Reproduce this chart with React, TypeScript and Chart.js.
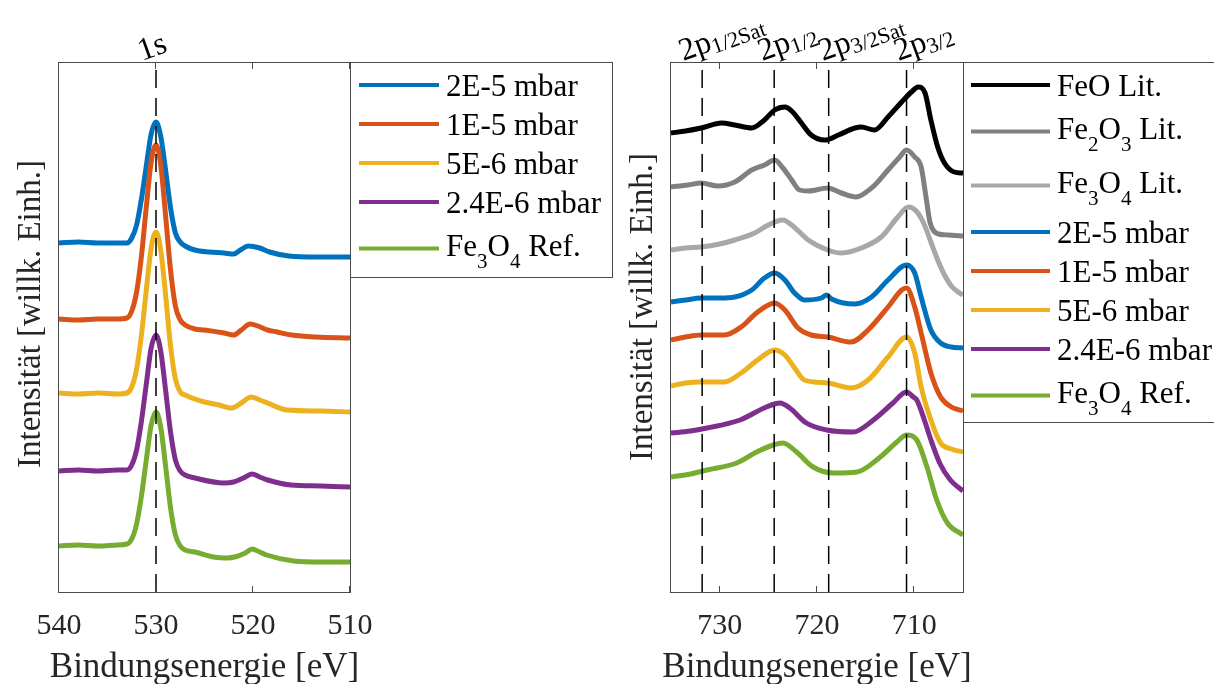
import React, { useEffect, useRef } from "react";
import { Chart, registerables } from "chart.js";

Chart.register(...registerables);

type Pt = [number, number];

const FONT = '"Liberation Serif", "Times New Roman", serif';

// ---------------- O 1s (left panel) ----------------
const o1sXMin = 510;
const o1sXMax = 540;
const o1sYMax = 529;
const o1sTicks = [540, 530, 520, 510];
const o1sLabels = ["2E-5 mbar", "1E-5 mbar", "5E-6 mbar", "2.4E-6 mbar", "Fe_3O_4 Ref."];

const o1s2E5: Pt[] = [
  [540, 349], [538, 350], [536, 349], [534, 349], [533, 349], [532.5, 354], [532, 367], [531.5, 393],
  [531, 426], [530.5, 458], [530, 470], [529.5, 455], [529, 421], [528.5, 384], [528, 359], [527.5, 350],
  [527, 346], [526, 342], [524.5, 340], [523, 339], [522, 338], [521.3, 342], [520.5, 346], [520, 345.5],
  [519.3, 344], [518.3, 340], [516.3, 336], [513.5, 335], [510, 335],
];
const o1s1E5: Pt[] = [
  [540, 273], [538, 272], [536, 273], [534, 273], [533, 274], [532.5, 281], [532, 300], [531.5, 336],
  [531, 385], [530.5, 430], [530, 447], [529.5, 426], [529, 375], [528.5, 322], [528, 286], [527.5, 272],
  [527, 267], [526, 263], [525, 262], [523, 259], [522, 257], [521.2, 262], [520.3, 268], [519.5, 266],
  [518.5, 262], [517.5, 260], [516, 257], [513.5, 255], [510, 254],
];
const o1s5E6: Pt[] = [
  [540, 199], [538, 198], [536, 199], [534, 198], [533, 199], [532.5, 205], [532, 223], [531.5, 257],
  [531, 302], [530.5, 344], [530, 360], [529.5, 341], [529, 296], [528.5, 246], [528, 213], [527.5, 200],
  [527, 197], [526, 193], [525, 190], [523.5, 187], [522.2, 184], [521.2, 189], [520.2, 195], [519.3, 192],
  [518.5, 189], [516.5, 182], [513, 181], [510, 180],
];
const o1s24E6: Pt[] = [
  [540, 121], [538, 122], [536, 121], [534, 122], [533, 122], [532.5, 127], [532, 142], [531.5, 171],
  [531, 208], [530.5, 244], [530, 257], [529.5, 240], [529, 201], [528.5, 160], [528, 132], [527.5, 121],
  [527, 117], [526, 114], [523, 109], [522, 110], [521, 114], [520.1, 118], [519.3, 115], [518.5, 112],
  [516.1, 107], [513, 106], [510, 105],
];
const o1sRef: Pt[] = [
  [540, 46], [538, 47], [536, 46], [534, 47], [533, 48], [532.5, 53], [532, 68], [531.5, 96],
  [531, 132], [530.5, 167], [530, 180], [529.5, 164], [529, 125], [528.5, 84], [528, 57], [527.5, 46],
  [527, 42], [526, 40], [524.1, 35], [522.7, 34], [521.7, 35.5], [520.8, 39], [520.1, 43], [519.3, 40],
  [518.6, 37], [515.8, 31], [513, 30], [510, 30],
];
const o1sSeries = [o1s2E5, o1s1E5, o1s5E6, o1s24E6, o1sRef];
const o1sMarkers = [530];
const o1sMarkerMain = ["1s"];
const o1sMarkerSub = [""];

// ---------------- Fe 2p (right panel) ----------------
const fe2pXMin = 705;
const fe2pXMax = 735;
const fe2pYMax = 529;
const fe2pTicks = [730, 720, 710];
const fe2pLabels = [
  "FeO Lit.", "Fe_2O_3 Lit.", "Fe_3O_4 Lit.", "2E-5 mbar", "1E-5 mbar", "5E-6 mbar", "2.4E-6 mbar", "Fe_3O_4 Ref.",
];

const fe2pFeO: Pt[] = [
  [735, 459], [733.5, 461], [731.9, 464], [729.8, 469], [728.45, 467], [726.7, 464], [725.4, 472],
  [724.35, 482], [723.3, 485], [722.5, 480], [721.6, 469], [720.6, 457], [719.2, 452], [717.8, 457],
  [716.1, 464], [715.45, 465], [714.1, 462], [712.7, 475], [711.3, 490], [710.3, 500], [709.6, 505],
  [708.9, 499], [708.3, 472], [707.6, 445], [706.9, 429], [705.9, 420], [705, 419],
];
const fe2pFe2O3: Pt[] = [
  [735, 405], [733.25, 407], [731.9, 409], [730.2, 406], [728.45, 410], [726.7, 422], [725.4, 427],
  [724.35, 432], [723.5, 424], [722.6, 412], [721.8, 402], [720.9, 401], [718.9, 404], [717.5, 399],
  [716, 395], [714.4, 404], [712.7, 422], [711.5, 435], [710.8, 442], [709.96, 435], [709.3, 425],
  [708.8, 395], [708.4, 370], [708, 361], [707.5, 358], [706.5, 357], [705, 356],
];
const fe2pFe3O4Lit: Pt[] = [
  [735, 342], [733.5, 344], [731.9, 345], [730, 348], [728.45, 352], [726.4, 359], [725, 367],
  [723.5, 372], [722.6, 367], [720.9, 352], [718.9, 342], [717.5, 339], [715.45, 344], [713.4, 355],
  [711.7, 375], [710.6, 385], [709.8, 381], [709, 368], [708.3, 350], [707.6, 332], [706.9, 317],
  [706.2, 306], [705.5, 300], [705, 297],
];
const fe2p2E5: Pt[] = [
  [735, 290], [733.5, 292], [731.9, 294], [730, 294], [728.45, 295], [726.7, 302], [725.4, 314],
  [724.35, 319], [723.3, 312], [722.3, 299], [721.3, 292], [719.55, 294], [719, 297], [718.5, 293],
  [716.1, 288], [714.4, 295], [712.7, 312], [710.8, 327], [709.96, 319], [709.3, 295], [708.3, 262],
  [707.3, 249], [706.2, 245], [705, 244],
];
const fe2p1E5: Pt[] = [
  [735, 252], [733.5, 255], [731.9, 257], [729.5, 257], [727.8, 265], [726.1, 280], [724.35, 289],
  [723.3, 282], [721.95, 264], [720.6, 257], [718.9, 255], [716.5, 250], [714.75, 262], [712.7, 285],
  [711.3, 302], [710.8, 304], [709.96, 285], [709.3, 259], [708.3, 219], [707.3, 195], [706.2, 185],
  [705, 181],
];
const fe2p5E6: Pt[] = [
  [735, 206], [733.5, 209], [731.9, 210], [729.5, 210], [727.8, 219], [726.1, 232], [724.35, 242],
  [723.3, 237], [722.3, 224], [721.3, 212], [718.9, 209], [716.5, 204], [714.75, 212], [712.7, 235],
  [710.8, 255], [709.96, 239], [709.3, 205], [708.3, 172], [707.3, 149], [706.2, 143], [705, 140],
];
const fe2p24E6: Pt[] = [
  [735, 159], [733, 161], [731.3, 164], [727.9, 172], [725.2, 185], [723.8, 189], [722.8, 184],
  [721.1, 169], [719, 162], [716.3, 160], [714.2, 172], [712.2, 189], [710.8, 200], [710.1, 195],
  [709.75, 192], [708.9, 170], [708.4, 155], [707.4, 129], [706.3, 112], [705, 101],
];
const fe2pRef: Pt[] = [
  [735, 115], [733, 118], [731.3, 122], [728.25, 129], [726.2, 140], [724.5, 147], [723.5, 149],
  [722.1, 140], [720.4, 125], [718.3, 119], [715.9, 120], [713.5, 135], [711.8, 150], [710.8, 157],
  [709.75, 152], [708.7, 125], [707.7, 92], [706.6, 69], [705, 57],
];
const fe2pSeries = [fe2pFeO, fe2pFe2O3, fe2pFe3O4Lit, fe2p2E5, fe2p1E5, fe2p5E6, fe2p24E6, fe2pRef];
const fe2pMarkers = [731.8, 724.4, 718.8, 710.8];
const fe2pMarkerMain = ["2p", "2p", "2p", "2p"];
const fe2pMarkerSub = ["1/2Sat", "1/2", "3/2Sat", "3/2"];

const xTitle = "Bindungsenergie [eV]";
const yTitle = "Intensität [willk. Einh.]";

// ---------------- styles ----------------
const matlabColors = ["#0072BD", "#D95319", "#EDB120", "#7E2F8E", "#77AC30"];
const fe2pColors = ["#000000", "#808080", "#A8A8A8", ...matlabColors];
const AXIS_COLOR = "#262626";

function parseRich(s: string) {
  const parts: { t: string; sub: boolean }[] = [];
  let buf = "";
  for (let i = 0; i < s.length; i++) {
    if (s[i] === "_" && i + 1 < s.length) {
      if (buf) parts.push({ t: buf, sub: false });
      buf = "";
      parts.push({ t: s[i + 1], sub: true });
      i++;
    } else buf += s[i];
  }
  if (buf) parts.push({ t: buf, sub: false });
  return parts;
}

function drawRich(ctx: CanvasRenderingContext2D, parts: { t: string; sub: boolean }[], x: number, y: number,
  main: number, sub: number, subDy: number) {
  let cx = x;
  for (const p of parts) {
    ctx.font = `${p.sub ? sub : main}px ${FONT}`;
    ctx.fillText(p.t, cx, y + (p.sub ? subDy : 0));
    cx += ctx.measureText(p.t).width;
  }
}

const decorPlugin = {
  id: "decor",
  afterDraw(chart: any, _args: any, o: any) {
    const ctx: CanvasRenderingContext2D = chart.ctx;
    const a = chart.chartArea;
    const xs = chart.scales.x;
    ctx.save();
    // frame
    ctx.strokeStyle = "#4a4a4a";
    ctx.lineWidth = 1;
    ctx.strokeRect(a.left - 0.5, a.top - 0.5, a.right - a.left + 1, a.bottom - a.top + 1);
    // inward ticks
    ctx.beginPath();
    for (const t of xs.ticks) {
      const px = Math.round(xs.getPixelForValue(t.value)) - 0.5;
      ctx.moveTo(px, a.top);
      ctx.lineTo(px, a.top + 6);
      ctx.moveTo(px, a.bottom);
      ctx.lineTo(px, a.bottom - 6);
    }
    ctx.stroke();

    // x title (wider than the plot, so drawn here without width compression)
    ctx.fillStyle = AXIS_COLOR;
    ctx.font = `35px ${FONT}`;
    ctx.textAlign = "center";
    ctx.textBaseline = "alphabetic";
    ctx.fillText(o.xTitle, (a.left + a.right) / 2, 677);

    // y title
    ctx.save();
    ctx.translate(o.yTitleX, o.yTitleY);
    ctx.rotate(-Math.PI / 2);
    ctx.font = `33px ${FONT}`;
    ctx.textAlign = "center";
    ctx.textBaseline = "middle";
    ctx.fillText(o.yTitle, 0, 0);
    ctx.restore();

    // marker labels (rotated)
    ctx.textAlign = "left";
    ctx.textBaseline = "alphabetic";
    o.markers.forEach((m: number, i: number) => {
      const px = xs.getPixelForValue(m) + o.markerDx[i];
      ctx.save();
      ctx.translate(px, o.markerY);
      ctx.rotate((-20 * Math.PI) / 180);
      ctx.fillStyle = "#000";
      const parts = [{ t: o.markerMain[i], sub: false }];
      if (o.markerSub[i]) parts.push({ t: o.markerSub[i], sub: true });
      drawRich(ctx, parts, 0, 0, 32, 22, 4);
      ctx.restore();
    });

    // legend
    const lg = o.legend;
    ctx.fillStyle = "#ffffff";
    ctx.fillRect(lg.x1, lg.y1, lg.x2 - lg.x1, lg.y2 - lg.y1);
    ctx.strokeStyle = "#4a4a4a";
    ctx.lineWidth = 1;
    ctx.strokeRect(lg.x1 - 0.5, lg.y1 - 0.5, lg.x2 - lg.x1, lg.y2 - lg.y1);
    const items = chart.data.datasets.filter((d: any) => d.isSeries);
    let y = lg.y0;
    items.forEach((d: any, i: number) => {
      const parts = parseRich(d.label);
      const hasSub = parts.some((p) => p.sub);
      ctx.strokeStyle = d.borderColor;
      ctx.lineWidth = 4;
      ctx.beginPath();
      ctx.moveTo(lg.lx1, y);
      ctx.lineTo(lg.lx2, y);
      ctx.stroke();
      ctx.fillStyle = "#000";
      drawRich(ctx, parts, lg.tx, y + (hasSub ? 7 : 10.5), 31, 21, 12);
      if (i + 1 < items.length) {
        const nextSub = parseRich(items[i + 1].label).some((p) => p.sub);
        y += 39 + (hasSub ? 7.5 : 0) + (nextSub ? 7.5 : 0);
      }
    });
    ctx.restore();
  },
};

function buildConfig(series: Pt[][], labels: string[], colors: string[], xMin: number, xMax: number,
  yMax: number, tickValues: number[], markers: number[], padding: any, decor: any) {
  const datasets: any[] = series.map((s, i) => ({
    label: labels[i],
    isSeries: true,
    data: s.map(([x, y]) => ({ x, y })),
    borderColor: colors[i],
    backgroundColor: colors[i],
    borderWidth: 5,
    pointRadius: 0,
    cubicInterpolationMode: "monotone",
    borderJoinStyle: "round",
    clip: 0,
    order: 100 - i,
  }));
  markers.forEach((m) => {
    datasets.push({
      label: "marker",
      isSeries: false,
      data: [{ x: m, y: 0 }, { x: m, y: yMax }],
      borderColor: "#000",
      borderWidth: 1.5,
      borderDash: [18, 10],
      pointRadius: 0,
      clip: 0,
      order: -1,
    });
  });
  return {
    type: "line",
    data: { datasets },
    options: {
      responsive: false,
      maintainAspectRatio: false,
      animation: false,
      devicePixelRatio: 1,
      events: [],
      layout: { padding },
      plugins: { legend: { display: false }, tooltip: { enabled: false }, decor },
      scales: {
        x: {
          type: "linear",
          min: xMin,
          max: xMax,
          reverse: true,
          grid: { display: false, drawTicks: false },
          border: { display: false },
          ticks: {
            padding: 16,
            maxRotation: 0,
            autoSkip: false,
            color: AXIS_COLOR,
            font: { family: FONT, size: 30 },
          },
          afterBuildTicks: (s: any) => {
            s.ticks = tickValues.map((v) => ({ value: v }));
          },
          afterFit: (s: any) => {
            s.height = 92;
          },
          title: { display: false },
        },
        y: { type: "linear", min: 0, max: yMax, display: false },
      },
    },
    plugins: [decorPlugin],
  } as any;
}

export default function App() {
  const leftRef = useRef<HTMLCanvasElement>(null);
  const rightRef = useRef<HTMLCanvasElement>(null);

  useEffect(() => {
    const c1 = new Chart(
      leftRef.current as HTMLCanvasElement,
      buildConfig(o1sSeries, o1sLabels, matlabColors, o1sXMin, o1sXMax, o1sYMax, o1sTicks, o1sMarkers,
        { left: 59, right: 1214 - 350, top: 63, bottom: 0 },
        {
          xTitle, yTitle, yTitleX: 31, yTitleY: 314,
          markers: o1sMarkers, markerMain: o1sMarkerMain, markerSub: o1sMarkerSub, markerDx: [-14], markerY: 61,
          legend: { x1: 351, y1: 63, x2: 613, y2: 278, lx1: 359, lx2: 439, tx: 446, y0: 85 },
        })
    );
    const c2 = new Chart(
      rightRef.current as HTMLCanvasElement,
      buildConfig(fe2pSeries, fe2pLabels, fe2pColors, fe2pXMin, fe2pXMax, fe2pYMax, fe2pTicks, fe2pMarkers,
        { left: 671, right: 1214 - 963, top: 63, bottom: 0 },
        {
          xTitle, yTitle, yTitleX: 643, yTitleY: 307,
          markers: fe2pMarkers, markerMain: fe2pMarkerMain, markerSub: fe2pMarkerSub,
          markerDx: [-19, -12, -6, -8], markerY: 61,
          legend: { x1: 964, y1: 63, x2: 1230, y2: 423, lx1: 971, lx2: 1050, tx: 1057, y0: 85 },
        })
    );
    return () => {
      c1.destroy();
      c2.destroy();
    };
  }, []);

  const cs: React.CSSProperties = { position: "absolute", left: 0, top: 0 };
  return (
    <div style={{ position: "absolute", left: 0, top: 0, width: 1214, height: 684, background: "#fff", overflow: "hidden" }}>
      <canvas ref={leftRef} width={1214} height={684} style={cs} />
      <canvas ref={rightRef} width={1214} height={684} style={cs} />
    </div>
  );
}
